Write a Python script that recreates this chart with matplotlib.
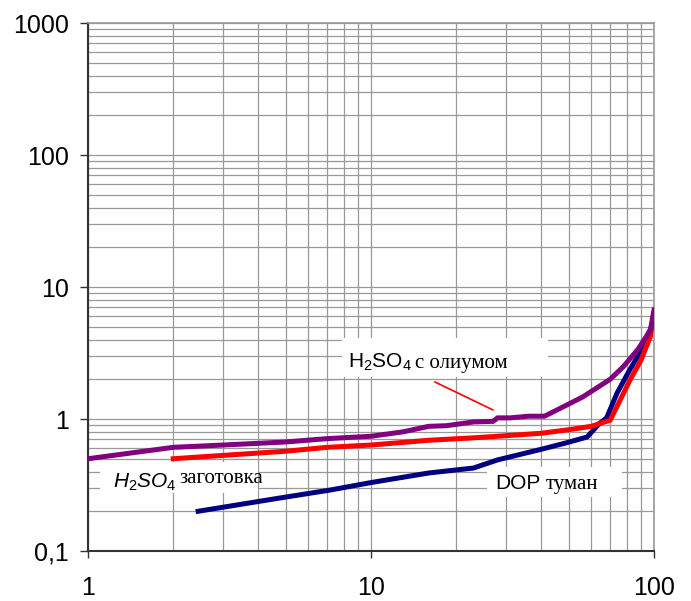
import numpy as np
import matplotlib.pyplot as plt
from matplotlib.patches import Rectangle
from matplotlib.ticker import FixedLocator, FixedFormatter, NullFormatter, LogLocator

plt.rcParams['mathtext.fontset'] = 'custom'
plt.rcParams['mathtext.rm'] = 'Liberation Sans'
plt.rcParams['mathtext.it'] = 'Liberation Sans:italic'
plt.rcParams['mathtext.bf'] = 'Liberation Sans:bold'

# H2SO4 с олиумом
oleum_x = [1, 2, 3, 5, 7, 10, 13, 16, 18.5, 23, 27, 28, 31, 36, 41, 45, 56, 70, 78, 88, 97, 100]
oleum_y = [0.50, 0.61, 0.635, 0.67, 0.71, 0.74, 0.80, 0.88, 0.89, 0.95, 0.96, 1.02, 1.02,
           1.05, 1.05, 1.16, 1.47, 2.0, 2.5, 3.4, 4.7, 6.7]

# H2SO4 заготовка
blank_x = [2, 3, 5, 7, 10, 16, 23, 28, 40, 50, 60, 70, 75, 82, 90, 97, 100]
blank_y = [0.50, 0.53, 0.57, 0.61, 0.635, 0.69, 0.72, 0.74, 0.78, 0.83, 0.88, 0.98,
           1.32, 1.95, 2.8, 4.2, 6.3]

# DOP туман
dop_x = [2.45, 4.65, 7.2, 10, 16, 23, 28, 40, 49, 58, 64, 68, 74, 82, 89, 98, 100]
dop_y = [0.20, 0.25, 0.29, 0.33, 0.39, 0.425, 0.49, 0.59, 0.66, 0.73, 0.92, 1.02,
         1.57, 2.35, 3.16, 5.0, 6.3]

x_ticks = [1, 10, 100]
x_labels = ['1', '10', '100']
y_ticks = [0.1, 1, 10, 100, 1000]
y_labels = ['0,1', '1', '10', '100', '1000']

fig = plt.figure(figsize=(6.91, 6.01), dpi=100)
ax = fig.add_axes([0.1274, 0.0832, 0.8191, 0.8785])
ax.set_xscale('log')
ax.set_yscale('log')
ax.set_xlim(1, 100)
ax.set_ylim(0.1, 1000)

ax.plot(dop_x, dop_y, color='#000080', lw=3.6, zorder=3, solid_joinstyle='miter')
ax.plot(blank_x, blank_y, color='#ff0000', lw=3.6, zorder=3, solid_joinstyle='miter')
ax.plot(oleum_x, oleum_y, color='#800080', lw=3.6, zorder=3, solid_joinstyle='miter')

ax.xaxis.set_major_locator(FixedLocator(x_ticks))
ax.xaxis.set_major_formatter(FixedFormatter(x_labels))
ax.yaxis.set_major_locator(FixedLocator(y_ticks))
ax.yaxis.set_major_formatter(FixedFormatter(y_labels))
ax.xaxis.set_minor_locator(LogLocator(base=10, subs=np.arange(2, 10)))
ax.yaxis.set_minor_locator(LogLocator(base=10, subs=np.arange(2, 10)))
ax.xaxis.set_minor_formatter(NullFormatter())
ax.yaxis.set_minor_formatter(NullFormatter())

ax.grid(True, which='both', color='#999999', lw=0.9)
ax.set_axisbelow(True)
ax.tick_params(which='minor', length=0)
ax.tick_params(axis='y', which='major', length=6, width=1, color='#333333',
               pad=8, labelsize=18)
ax.tick_params(axis='x', which='major', length=5, width=1, color='#333333',
               pad=13, labelsize=18)
for lab in ax.get_xticklabels() + ax.get_yticklabels():
    lab.set_fontfamily('Liberation Sans')

for side in ['left', 'bottom']:
    ax.spines[side].set_color('#333333')
    ax.spines[side].set_linewidth(1.5)
for side in ['top', 'right']:
    ax.spines[side].set_color('#999999')
    ax.spines[side].set_linewidth(1.2)


def fx(px):
    return (px - 88) / 566


def fy(py):
    return (551 - py) / 528


# white label boxes
for x0, y0, x1, y1 in [(342, 338, 548, 377), (100, 462, 258, 493), (487, 467, 622, 497)]:
    ax.add_patch(Rectangle((fx(x0), fy(y1)), fx(x1) - fx(x0), fy(y0) - fy(y1),
                           transform=ax.transAxes, facecolor='white', edgecolor='none',
                           zorder=4))

sans = 'Liberation Sans'
serif = 'Liberation Serif'

t1 = ax.text(fx(348), fy(368), r'H$_2$SO$_4$', fontsize=15, family=sans,
             transform=ax.transAxes, va='baseline', ha='left', zorder=5)
ax.annotate('с олиумом', xy=(1, fy(368)), xycoords=(t1, 'axes fraction'),
            xytext=(2, 0), textcoords='offset points', fontsize=15, family=serif,
            va='baseline', ha='left', zorder=5)

t2 = ax.text(fx(113), fy(488), r'$\mathit{H_2SO_4}$', fontsize=15, family=sans,
             transform=ax.transAxes, va='baseline', ha='left', zorder=5)
ax.annotate('заготовка', xy=(1, fy(483)), xycoords=(t2, 'axes fraction'),
            xytext=(2, 0), textcoords='offset points', fontsize=15, family=serif,
            va='baseline', ha='left', zorder=5)

t3 = ax.text(fx(495), fy(489), 'DOP', fontsize=15, family=sans,
             transform=ax.transAxes, va='baseline', ha='left', zorder=5)
ax.annotate('туман', xy=(1, fy(489)), xycoords=(t3, 'axes fraction'),
            xytext=(4, 0), textcoords='offset points', fontsize=15, family=serif,
            va='baseline', ha='left', zorder=5)

ax.annotate('', xy=(27, 1.17), xytext=(16.8, 1.91),
            arrowprops=dict(arrowstyle='-', color='#ff0000', lw=1.2,
                            shrinkA=0, shrinkB=0), zorder=5)

fig.savefig('out.png', dpi=100)
